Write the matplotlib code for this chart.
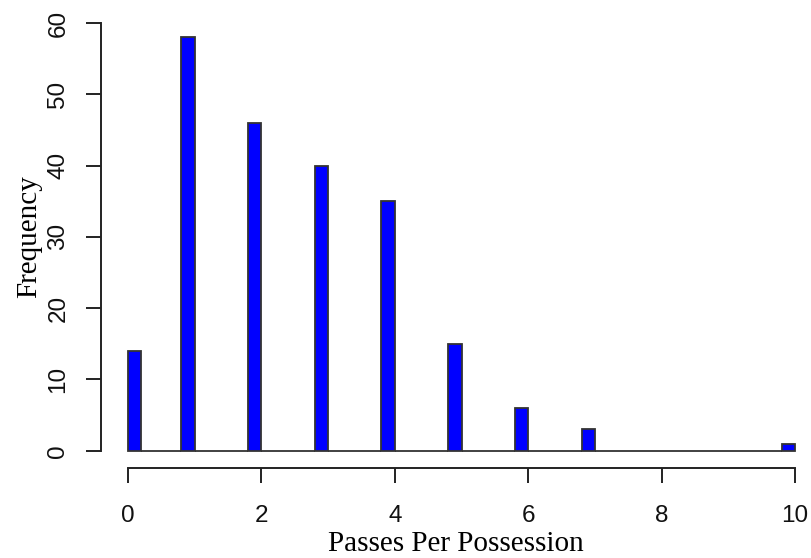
import numpy as np
import matplotlib
matplotlib.use("Agg")
import matplotlib.pyplot as plt

# ── Data ──────────────────────────────────────────────────────────────────────
passes = [0, 1, 2, 3, 4, 5, 6, 7, 8, 9, 10]
freq = [14, 58, 46, 40, 35, 15, 6, 3, 0, 0, 1]
BIN_W = 0.2

# R-style right-closed bins (a, b], lowest bin includes 0
edges = np.arange(0, 10 + BIN_W / 2, BIN_W)
counts = np.zeros(len(edges) - 1)
for v, f in zip(passes, freq):
    idx = max(int(np.ceil(v / BIN_W - 1e-9)) - 1, 0)
    counts[idx] += f

W, H = 811, 558
fig = plt.figure(figsize=(W / 100, H / 100), dpi=100)

# axes box in pixels: left spine at x=101, bottom spine at y=468
left_px, right_px, top_px, bot_px = 101, 811, 5, 468
ax = fig.add_axes([left_px / W, 1 - bot_px / H,
                   (right_px - left_px) / W, (bot_px - top_px) / H])

# pixel mapping: x0 -> 128, x10 -> 795 ; y0 -> 450.7, y60 -> 23
px_x = (795 - 128) / 10
px_y = (450.7 - 23) / 60
ax.set_xlim((left_px - 128) / px_x, (right_px - 128) / px_x)
ax.set_ylim((450.7 - bot_px) / px_y, (450.7 - top_px) / px_y)

ax.bar(edges[:-1], counts, width=BIN_W, align="edge",
       color="#0000FF", edgecolor="#333333", linewidth=1.3)

for s in ["top", "right"]:
    ax.spines[s].set_visible(False)
ax.spines["left"].set_bounds(0, 60)
ax.spines["bottom"].set_bounds(0, 10)
ax.spines["left"].set_linewidth(1.4)
ax.spines["bottom"].set_linewidth(1.4)
ax.spines["left"].set_color("#222222")
ax.spines["bottom"].set_color("#222222")

ax.set_xticks([0, 2, 4, 6, 8, 10])
ax.set_yticks([0, 10, 20, 30, 40, 50, 60])
ax.tick_params(axis="both", length=10.8, width=1.4, color="#222222",
               labelsize=17.5, labelcolor="#111111")
ax.tick_params(axis="x", pad=15.5)
ax.tick_params(axis="y", pad=12)
for lab in ax.get_xticklabels() + ax.get_yticklabels():
    lab.set_family("Liberation Sans")
for lab in ax.get_yticklabels():
    lab.set_rotation(90)
    lab.set_va("center")

ax.set_xlabel("Passes Per Possession", family="Liberation Serif",
              fontsize=21, labelpad=3)
ax.set_ylabel("Frequency", family="Liberation Serif", fontsize=21, labelpad=4)

fig.savefig("out.png", dpi=100)
